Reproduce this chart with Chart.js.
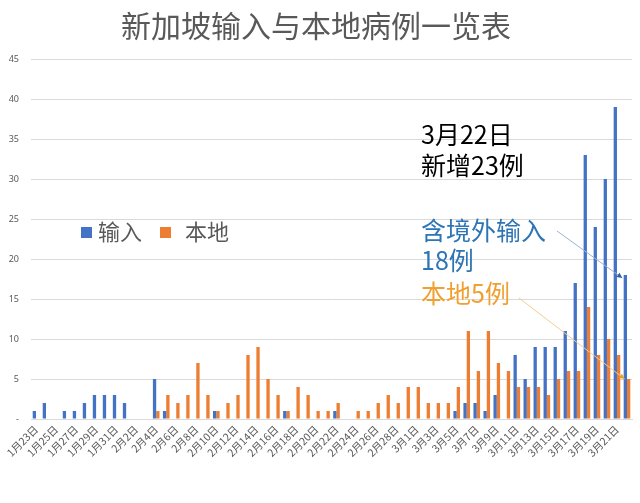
<!DOCTYPE html>
<html>
<head>
<meta charset="utf-8">
<script src="https://cdn.jsdelivr.net/npm/chart.js@4/dist/chart.umd.min.js"></script>
<style>
  html, body { margin: 0; padding: 0; background: #fff; }
  #wrap { position: relative; width: 640px; height: 503px; overflow: hidden; font-family: "Noto Sans CJK SC", "Noto Sans", sans-serif; }
  canvas { position: absolute; left: 0; top: 0; }
  .lg { position: absolute; top: 215px; font-size: 22px; color: #595959; line-height: 30px; white-space: nowrap; }
  .sw { display: inline-block; width: 11px; height: 11px; vertical-align: middle; margin-right: 6px; position: relative; top: -2px; }
  .ann { position: absolute; left: 421px; font-size: 25px; line-height: 31px; white-space: nowrap; }
</style>
</head>
<body>
<div id="wrap">
  <canvas id="c" width="640" height="503"></canvas>
  <div class="lg" style="left:81px"><span class="sw" style="background:#4472C4"></span>输入</div>
  <div class="lg" style="left:160px"><span class="sw" style="background:#ED7D31;margin-right:14px"></span>本地</div>
  <div class="ann" style="top:118px;color:#000">3月22日</div>
  <div class="ann" style="top:149px;color:#000">新增23例</div>
  <div class="ann" style="top:214px;color:#2E75B6">含境外输入</div>
  <div class="ann" style="top:244px;color:#2E75B6">18例</div>
  <div class="ann" style="top:277px;color:#F0A030">本地5例</div>
</div>
<script>
const categories = [
  '1月23日','1月24日','1月25日','1月26日','1月27日','1月28日','1月29日','1月30日','1月31日',
  '2月1日','2月2日','2月3日','2月4日','2月5日','2月6日','2月7日','2月8日','2月9日','2月10日',
  '2月11日','2月12日','2月13日','2月14日','2月15日','2月16日','2月17日','2月18日','2月19日','2月20日',
  '2月21日','2月22日','2月23日','2月24日','2月25日','2月26日','2月27日','2月28日','2月29日',
  '3月1日','3月2日','3月3日','3月4日','3月5日','3月6日','3月7日','3月8日','3月9日','3月10日',
  '3月11日','3月12日','3月13日','3月14日','3月15日','3月16日','3月17日','3月18日','3月19日','3月20日',
  '3月21日','3月22日'
];
const imported = [
  1,2,0,1,1,2,3,3,3,
  2,0,0,5,1,0,0,0,0,1,
  0,0,0,0,0,0,1,0,0,0,
  0,1,0,0,0,0,0,0,0,
  0,0,0,0,1,2,2,1,3,0,
  8,5,9,9,9,11,17,33,24,30,
  39,18
];
const local = [
  0,0,0,0,0,0,0,0,0,
  0,0,0,1,3,2,3,7,3,1,
  2,3,8,9,5,3,1,4,3,1,
  1,2,0,1,1,2,3,2,4,
  4,2,2,2,4,11,6,11,7,6,
  4,4,4,3,5,6,6,14,8,10,
  8,5
];
const yTicks = [0,5,10,15,20,25,30,35,40,45];
const seriesNames = ['输入','本地'];
const titleText = '新加坡输入与本地病例一览表';

const arrowPlugin = {
  id: 'arrows',
  afterDatasetsDraw(chart) {
    const ctx = chart.ctx;
    const y = chart.scales.y;
    const last = categories.length - 1;
    const m0 = chart.getDatasetMeta(0).data[last];
    const m1 = chart.getDatasetMeta(1).data[last];
    function arrow(x0, y0, x1, y1, line, head) {
      ctx.save();
      ctx.strokeStyle = line; ctx.lineWidth = 1;
      ctx.beginPath(); ctx.moveTo(x0, y0); ctx.lineTo(x1, y1); ctx.stroke();
      const a = Math.atan2(y1 - y0, x1 - x0), L = 6;
      ctx.fillStyle = head;
      ctx.beginPath();
      ctx.moveTo(x1, y1);
      ctx.lineTo(x1 - L * Math.cos(a - 0.45), y1 - L * Math.sin(a - 0.45));
      ctx.lineTo(x1 - L * Math.cos(a + 0.45), y1 - L * Math.sin(a + 0.45));
      ctx.closePath(); ctx.fill();
      ctx.restore();
    }
    arrow(557, 231, m0.x - 3, y.getPixelForValue(imported[last]) + 3, '#9DB3CF', '#2E62A8');
    arrow(519, 298, m1.x - 4, y.getPixelForValue(local[last]), '#F3CD8C', '#E8A020');
  }
};

new Chart(document.getElementById('c'), {
  type: 'bar',
  data: {
    labels: categories,
    datasets: [
      { label: seriesNames[0], data: imported, backgroundColor: '#4472C4', categoryPercentage: 0.66, barPercentage: 1.0 },
      { label: seriesNames[1], data: local, backgroundColor: '#ED7D31', categoryPercentage: 0.66, barPercentage: 1.0 }
    ]
  },
  options: {
    responsive: false,
    animation: false,
    layout: { padding: { left: 0, right: 8, top: 0, bottom: 0 } },
    plugins: {
      legend: { display: false },
      tooltip: { enabled: false },
      title: {
        display: true, text: titleText, color: '#595959',
        font: { family: '"Noto Sans CJK SC", sans-serif', size: 30, weight: 'normal' },
        padding: { top: 8, bottom: 15 }
      }
    },
    scales: {
      x: {
        grid: { display: false, drawTicks: false },
        border: { display: true, color: '#D9D9D9' },
        ticks: {
          autoSkip: false, minRotation: 45, maxRotation: 45, padding: 4,
          color: '#595959', font: { family: '"Noto Sans CJK SC", sans-serif', size: 10.5 },
          callback: (v, i) => (i % 2 === 0 ? categories[i] : '')
        },
        afterFit(s) { s.height = 84; }
      },
      y: {
        min: 0, max: 45,
        afterBuildTicks(s) { s.ticks = yTicks.map(v => ({ value: v })); },
        grid: { color: '#D9D9D9', drawTicks: false },
        border: { display: false },
        ticks: {
          color: '#595959', padding: 12,
          font: { family: '"Noto Sans", sans-serif', size: 9 },
          callback: v => (v === 0 ? '-' : v)
        },
        afterFit(s) { s.width = 31; }
      }
    }
  },
  plugins: [arrowPlugin]
});
</script>
</body>
</html>
